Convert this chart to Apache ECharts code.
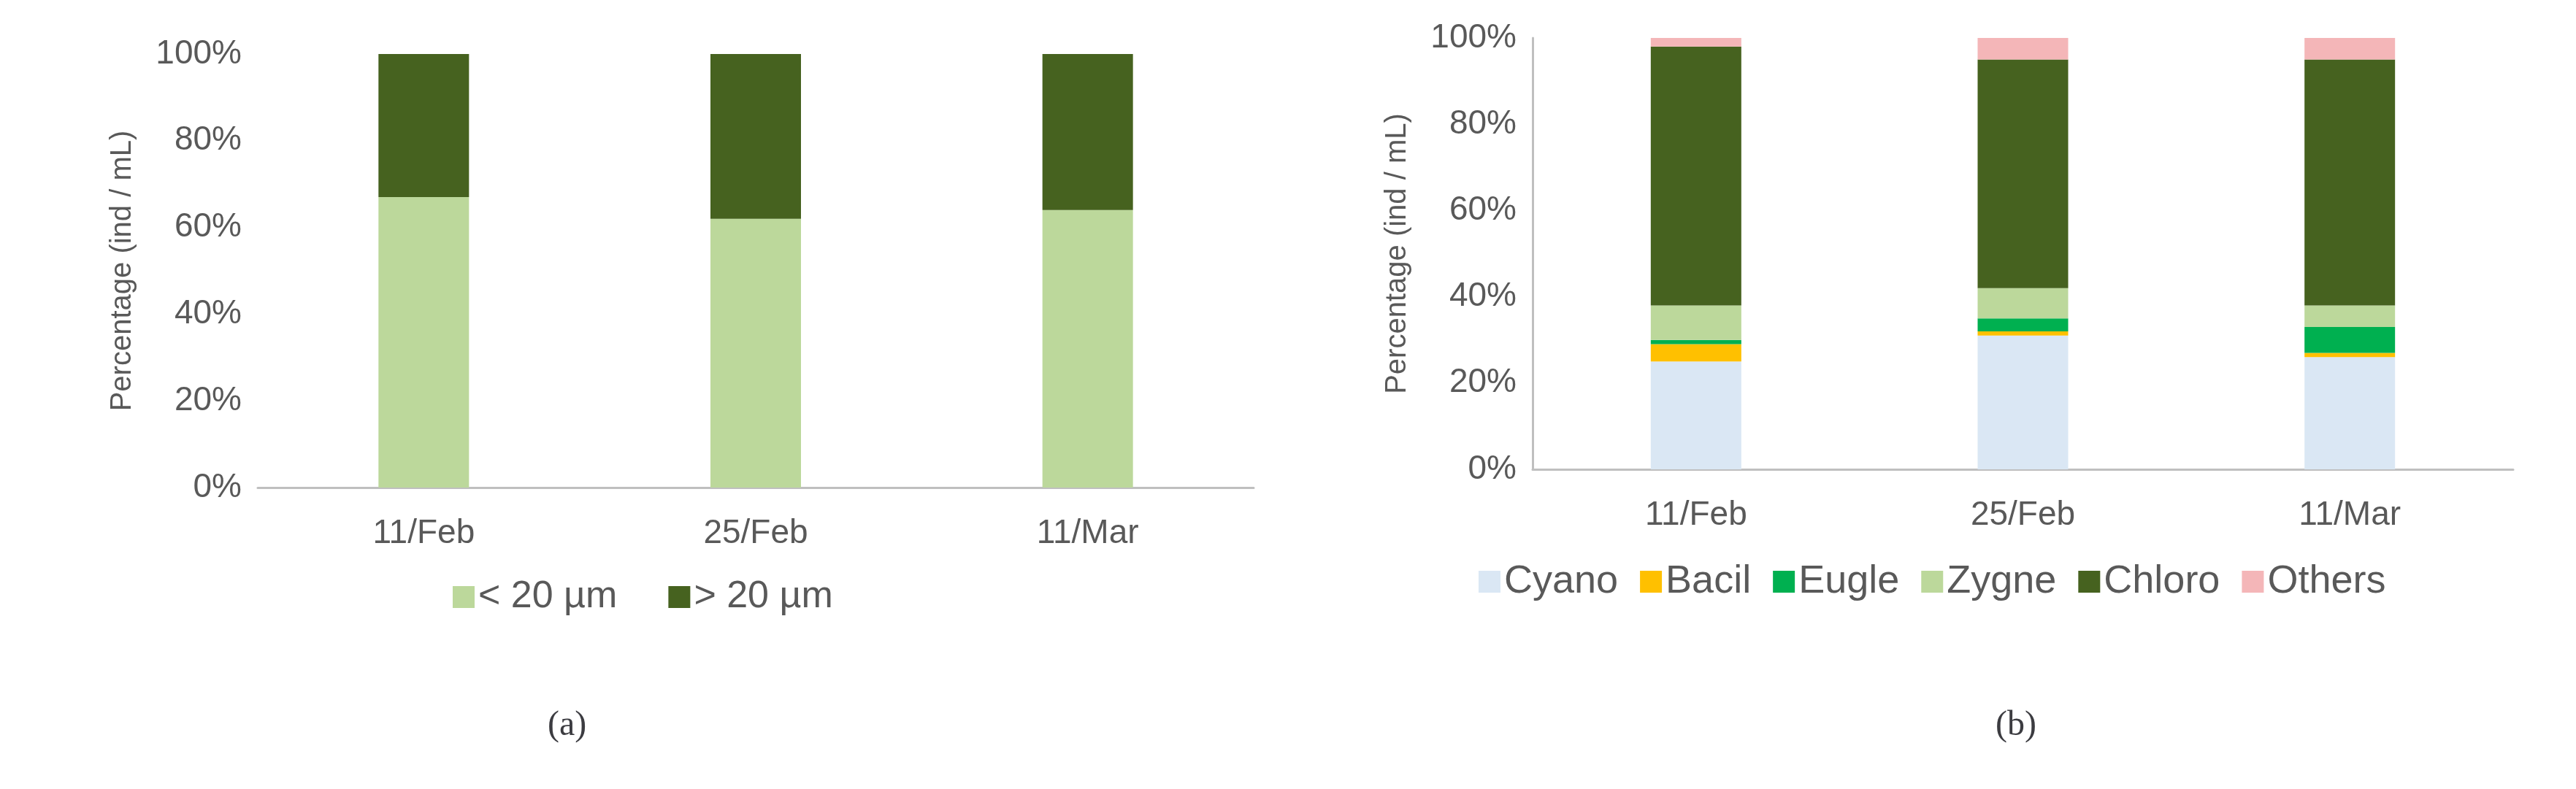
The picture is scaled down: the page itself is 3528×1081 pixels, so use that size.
<!DOCTYPE html>
<html lang="en">
<head>
    <meta charset="UTF-8">
    <title>Phytoplankton</title>
    <style>
        html, body { margin: 0; padding: 0; background: #fff; }
        #chart { width: 3528px; height: 1081px; }
    </style>
    <script src="https://cdn.jsdelivr.net/npm/echarts@6/dist/echarts.min.js"></script>
</head>
<body>
    <div id="chart"></div>
    <script>
        var dates = ['11/Feb', '25/Feb', '11/Mar'];
        var yTicks = [0, 20, 40, 60, 80, 100];

        // panel (a): size classes
        var small = [67, 62, 64];
        var large = [33, 38, 36];

        // panel (b): groups
        var cyano = [25, 31, 26];
        var bacil = [4, 1, 1];
        var eugle = [1, 3, 6];
        var zygne = [8, 7, 5];
        var chloro = [60, 53, 57];
        var others = [2, 5, 5];

        var grey = '#595959';
        var font = 'Liberation Sans, Arial, sans-serif';

        var myChart = echarts.init(document.getElementById('chart'));

        function yAxis(idx) {
            return {
                type: 'value', gridIndex: idx, min: 0, max: 100, interval: 20,
                name: 'Percentage (ind / mL)', nameLocation: 'middle', nameGap: 165,
                nameTextStyle: { color: grey, fontSize: 40, fontFamily: font },
                axisLabel: { color: grey, fontSize: 46, fontFamily: font, margin: 22,
                    formatter: function (v) { return yTicks.indexOf(v) >= 0 ? v + '%' : ''; } },
                axisLine: { show: idx === 1, lineStyle: { color: '#bfbfbf', width: 3 } },
                axisTick: { show: false },
                splitLine: { show: false }
            };
        }
        function xAxis(idx) {
            return {
                type: 'category', gridIndex: idx, data: dates,
                axisLabel: { color: grey, fontSize: 46, fontFamily: font, margin: 40 },
                axisLine: { lineStyle: { color: '#bfbfbf', width: 3 } },
                axisTick: { show: false }
            };
        }
        function bar(name, data, color, idx, stack, w) {
            return { name: name, type: 'bar', stack: stack, xAxisIndex: idx, yAxisIndex: idx,
                data: data, barWidth: w, itemStyle: { color: color } };
        }

        var option = {
            animation: false,
            grid: [
                { left: 353, right: 1811, top: 74, bottom: 413 },
                { left: 2099, right: 86, top: 52, bottom: 438 }
            ],
            xAxis: [xAxis(0), xAxis(1)],
            yAxis: [yAxis(0), yAxis(1)],
            legend: [
                { data: ['< 20 µm', '> 20 µm'], left: 615, top: 787, itemWidth: 30, itemHeight: 30,
                  itemGap: 70, icon: 'rect', textStyle: { color: grey, fontSize: 52, fontFamily: font } },
                { data: ['Cyano', 'Bacil', 'Eugle', 'Zygne', 'Chloro', 'Others'], left: 2020, top: 765,
                  itemWidth: 30, itemHeight: 30, itemGap: 30, icon: 'rect',
                  textStyle: { color: grey, fontSize: 54, fontFamily: font } }
            ],
            title: [
                { text: '(a)', left: 745, top: 965, textStyle: { fontFamily: 'Liberation Serif', fontSize: 48, fontWeight: 'normal' } },
                { text: '(b)', left: 2728, top: 965, textStyle: { fontFamily: 'Liberation Serif', fontSize: 48, fontWeight: 'normal' } }
            ],
            series: [
                bar('< 20 µm', small, '#bcd89b', 0, 'a', 124),
                bar('> 20 µm', large, '#46621f', 0, 'a', 124),
                bar('Cyano', cyano, '#dae7f4', 1, 'b', 124),
                bar('Bacil', bacil, '#ffc000', 1, 'b', 124),
                bar('Eugle', eugle, '#00b050', 1, 'b', 124),
                bar('Zygne', zygne, '#bcd89b', 1, 'b', 124),
                bar('Chloro', chloro, '#46621f', 1, 'b', 124),
                bar('Others', others, '#f4b6b8', 1, 'b', 124)
            ]
        };

        myChart.setOption(option);
    </script>
</body>
</html>
